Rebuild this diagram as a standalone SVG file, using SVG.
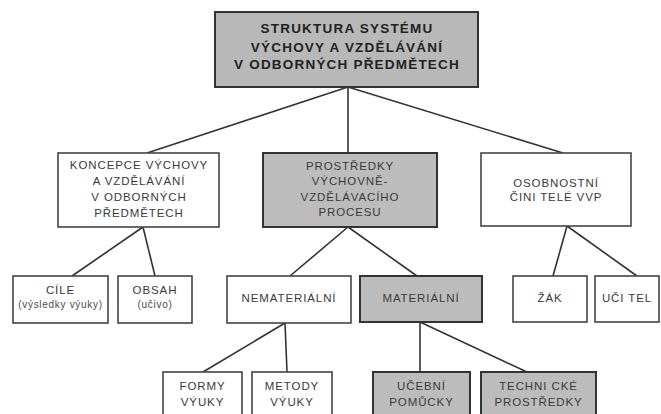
<svg xmlns="http://www.w3.org/2000/svg" width="661" height="414" viewBox="0 0 661 414">
<style>
.box{fill:#ffffff;stroke:#444;stroke-width:1.6}
.gbox{fill:#bcbcbc;stroke:#333;stroke-width:2}
.tbox{fill:#b8b8b8;stroke:#333;stroke-width:2}
.t{font-family:"Liberation Sans",Arial,sans-serif;font-size:11.5px;letter-spacing:0.9px;fill:#3a3a3a;text-anchor:middle}
.s{font-family:"Liberation Sans",Arial,sans-serif;font-size:10px;letter-spacing:0.7px;fill:#4a4a4a;text-anchor:middle}
.b{font-family:"Liberation Sans",Arial,sans-serif;font-size:13.5px;font-weight:bold;letter-spacing:1.2px;fill:#222;text-anchor:middle}
.c{fill:none;stroke:#333;stroke-width:1.6}
</style>
<rect width="661" height="414" fill="#ffffff"/>
<g id="connectors" class="c">
<path d="M348,87 L147,153"/>
<path d="M348,87 L348,153"/>
<path d="M348,87 L563,153"/>
<path d="M143,227 L72,276"/>
<path d="M143,227 L155,276"/>
<path d="M348,227 L290,276"/>
<path d="M348,227 L417,276"/>
<path d="M567,226 L553,276"/>
<path d="M567,226 L637,276"/>
<path d="M285,323 L203,372"/>
<path d="M285,323 L287,372"/>
<path d="M420,322 L420,372"/>
<path d="M420,322 L527,372"/>
</g>
<g id="root">
<rect class="tbox" x="215" y="12" width="263" height="75"/>
<text class="b" x="347" y="33">STRUKTURA SYSTÉMU</text>
<text class="b" x="347" y="51.5">VÝCHOVY A VZDĚLÁVÁNÍ</text>
<text class="b" x="347" y="69">V ODBORNÝCH PŘEDMĚTECH</text>
</g>
<g id="koncepce">
<rect class="box" x="58" y="153" width="161" height="74"/>
<text class="t" x="139" y="169">KONCEPCE VÝCHOVY</text>
<text class="t" x="139" y="185">A VZDĚLÁVÁNÍ</text>
<text class="t" x="139" y="201">V ODBORNÝCH</text>
<text class="t" x="139" y="216.5">PŘEDMĚTECH</text>
</g>
<g id="prostredky">
<rect class="gbox" x="263" y="153" width="174" height="74"/>
<text class="t" x="350" y="170">PROSTŘEDKY</text>
<text class="t" x="350" y="185">VÝCHOVNĚ-</text>
<text class="t" x="350" y="200.5">VZDĚLÁVACÍHO</text>
<text class="t" x="350" y="215.5">PROCESU</text>
</g>
<g id="osobnostni">
<rect class="box" x="481" y="153" width="150" height="73"/>
<text class="t" x="556" y="187">OSOBNOSTNÍ</text>
<text class="t" x="556" y="201">ČINI TELÉ VVP</text>
</g>
<g id="cile">
<rect class="box" x="13" y="276" width="95" height="47"/>
<text class="t" x="60.5" y="293.5">CÍLE</text>
<text class="s" x="60.5" y="308">(výsledky výuky)</text>
</g>
<g id="obsah">
<rect class="box" x="118" y="276" width="74" height="47"/>
<text class="t" x="155" y="293.5">OBSAH</text>
<text class="s" x="155" y="308">(učivo)</text>
</g>
<g id="nematerialni">
<rect class="box" x="227" y="276" width="124" height="47"/>
<text class="t" x="289" y="301.5">NEMATERIÁLNÍ</text>
</g>
<g id="materialni">
<rect class="gbox" x="360" y="276" width="122" height="46"/>
<text class="t" x="421" y="301.5">MATERIÁLNÍ</text>
</g>
<g id="zak">
<rect class="box" x="513" y="276" width="74" height="46"/>
<text class="t" x="550" y="302">ŽÁK</text>
</g>
<g id="ucitel">
<rect class="box" x="595" y="276" width="64" height="46"/>
<text class="t" x="627" y="302">UČI TEL</text>
</g>
<g id="formy">
<rect class="box" x="163" y="372" width="79" height="50"/>
<text class="t" x="202.5" y="390">FORMY</text>
<text class="t" x="202.5" y="406">VÝUKY</text>
</g>
<g id="metody">
<rect class="box" x="252" y="372" width="80" height="50"/>
<text class="t" x="292" y="390">METODY</text>
<text class="t" x="292" y="406">VÝUKY</text>
</g>
<g id="ucebni">
<rect class="gbox" x="373" y="372" width="97" height="50"/>
<text class="t" x="421.5" y="390">UČEBNÍ</text>
<text class="t" x="421.5" y="406">POMŮCKY</text>
</g>
<g id="technicke">
<rect class="gbox" x="481" y="372" width="115" height="50"/>
<text class="t" x="538.5" y="390">TECHNI CKÉ</text>
<text class="t" x="538.5" y="406">PROSTŘEDKY</text>
</g>
</svg>
